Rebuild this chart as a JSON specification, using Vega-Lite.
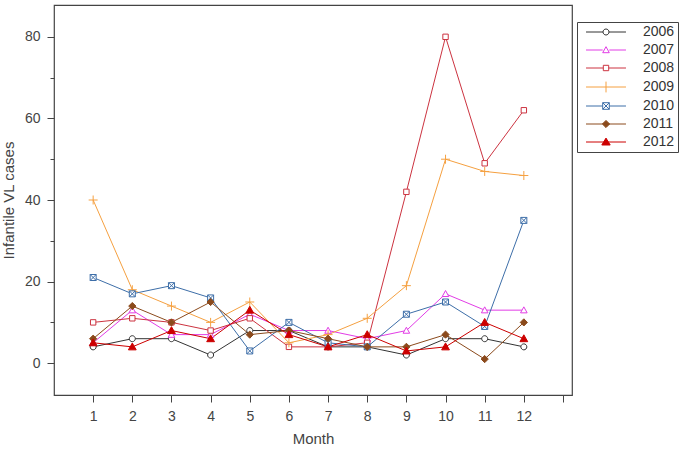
{
  "$schema": "https://vega.github.io/schema/vega-lite/v6.json",
  "width": 518,
  "height": 390,
  "autosize": {"type": "none"},
  "padding": {"left": 54, "top": 5, "right": 113, "bottom": 57},
  "background": "white",
  "config": {
    "font": "Liberation Sans",
    "view": {"stroke": "#444", "strokeWidth": 1.2},
    "axis": {"labelColor": "#444", "titleColor": "#444", "tickColor": "#444", "labelFont": "Liberation Sans", "titleFont": "Liberation Sans", "titleFontWeight": "normal", "labelFontSize": 14, "titleFontSize": 15, "grid": false, "domain": false}
  },
  "data": {"values": [
    {"month": 1, "year": "2006", "cases": 4}, {"month": 2, "year": "2006", "cases": 6}, {"month": 3, "year": "2006", "cases": 6}, {"month": 4, "year": "2006", "cases": 2}, {"month": 5, "year": "2006", "cases": 8}, {"month": 6, "year": "2006", "cases": 8}, {"month": 7, "year": "2006", "cases": 4}, {"month": 8, "year": "2006", "cases": 4}, {"month": 9, "year": "2006", "cases": 2}, {"month": 10, "year": "2006", "cases": 6}, {"month": 11, "year": "2006", "cases": 6}, {"month": 12, "year": "2006", "cases": 4},
    {"month": 1, "year": "2007", "cases": 5}, {"month": 2, "year": "2007", "cases": 13}, {"month": 3, "year": "2007", "cases": 7}, {"month": 4, "year": "2007", "cases": 7}, {"month": 5, "year": "2007", "cases": 12}, {"month": 6, "year": "2007", "cases": 8}, {"month": 7, "year": "2007", "cases": 8}, {"month": 8, "year": "2007", "cases": 6}, {"month": 9, "year": "2007", "cases": 8}, {"month": 10, "year": "2007", "cases": 17}, {"month": 11, "year": "2007", "cases": 13}, {"month": 12, "year": "2007", "cases": 13},
    {"month": 1, "year": "2008", "cases": 10}, {"month": 2, "year": "2008", "cases": 11}, {"month": 3, "year": "2008", "cases": 10}, {"month": 4, "year": "2008", "cases": 8}, {"month": 5, "year": "2008", "cases": 11}, {"month": 6, "year": "2008", "cases": 4}, {"month": 7, "year": "2008", "cases": 4}, {"month": 8, "year": "2008", "cases": 5}, {"month": 9, "year": "2008", "cases": 42}, {"month": 10, "year": "2008", "cases": 80}, {"month": 11, "year": "2008", "cases": 49}, {"month": 12, "year": "2008", "cases": 62},
    {"month": 1, "year": "2009", "cases": 40}, {"month": 2, "year": "2009", "cases": 18}, {"month": 3, "year": "2009", "cases": 14}, {"month": 4, "year": "2009", "cases": 10}, {"month": 5, "year": "2009", "cases": 15}, {"month": 6, "year": "2009", "cases": 5}, {"month": 7, "year": "2009", "cases": 7}, {"month": 8, "year": "2009", "cases": 11}, {"month": 9, "year": "2009", "cases": 19}, {"month": 10, "year": "2009", "cases": 50}, {"month": 11, "year": "2009", "cases": 47}, {"month": 12, "year": "2009", "cases": 46},
    {"month": 1, "year": "2010", "cases": 21}, {"month": 2, "year": "2010", "cases": 17}, {"month": 3, "year": "2010", "cases": 19}, {"month": 4, "year": "2010", "cases": 16}, {"month": 5, "year": "2010", "cases": 3}, {"month": 6, "year": "2010", "cases": 10}, {"month": 7, "year": "2010", "cases": 5}, {"month": 8, "year": "2010", "cases": 4}, {"month": 9, "year": "2010", "cases": 12}, {"month": 10, "year": "2010", "cases": 15}, {"month": 11, "year": "2010", "cases": 9}, {"month": 12, "year": "2010", "cases": 35},
    {"month": 1, "year": "2011", "cases": 6}, {"month": 2, "year": "2011", "cases": 14}, {"month": 3, "year": "2011", "cases": 10}, {"month": 4, "year": "2011", "cases": 15}, {"month": 5, "year": "2011", "cases": 7}, {"month": 6, "year": "2011", "cases": 8}, {"month": 7, "year": "2011", "cases": 6}, {"month": 8, "year": "2011", "cases": 4}, {"month": 9, "year": "2011", "cases": 4}, {"month": 10, "year": "2011", "cases": 7}, {"month": 11, "year": "2011", "cases": 1}, {"month": 12, "year": "2011", "cases": 10},
    {"month": 1, "year": "2012", "cases": 5}, {"month": 2, "year": "2012", "cases": 4}, {"month": 3, "year": "2012", "cases": 8}, {"month": 4, "year": "2012", "cases": 6}, {"month": 5, "year": "2012", "cases": 13}, {"month": 6, "year": "2012", "cases": 7}, {"month": 7, "year": "2012", "cases": 4}, {"month": 8, "year": "2012", "cases": 7}, {"month": 9, "year": "2012", "cases": 3}, {"month": 10, "year": "2012", "cases": 4}, {"month": 11, "year": "2012", "cases": 10}, {"month": 12, "year": "2012", "cases": 6}
  ]},
  "encoding": {
    "x": {"field": "month", "type": "quantitative", "title": "Month",
      "scale": {"domain": [0, 13.23], "nice": false, "zero": false},
      "axis": {"values": [1,2,3,4,5,6,7,8,9,10,11,12,13], "labelExpr": "datum.value > 12 ? '' : datum.label", "tickSize": 7, "labelPadding": 7, "titlePadding": 8, "labelFlush": false}},
    "y": {"field": "cases", "type": "quantitative", "title": "Infantile VL cases",
      "scale": {"domain": [-7.8, 87.8], "nice": false, "zero": false},
      "axis": {"values": [0,10,20,30,40,50,60,70,80], "labelExpr": "datum.value % 20 == 0 ? datum.label : ''", "tickSize": {"condition": {"test": "datum.value % 20 == 0", "value": 7}, "value": 4}, "labelPadding": 7, "titlePadding": 8, "labelFlush": false}}
  },
  "layer": [
    {
      "mark": {"type": "line", "strokeWidth": 1},
      "encoding": {
        "color": {"field": "year", "type": "nominal",
          "scale": {"domain": ["2006","2007","2008","2009","2010","2011","2012"], "range": ["#333333","#e23ce6","#cc3340","#f5a040","#3d6ea8","#8b4a1c","#cc0000"]},
          "legend": {"orient": "none", "legendX": 523, "legendY": 17, "title": null, "strokeColor": "#444", "padding": 3, "symbolSize": 144, "symbolOffset": 19, "labelOffset": 30, "rowPadding": 4, "labelFontSize": 14, "labelColor": "#333", "labelFont": "Liberation Sans", "symbolStrokeWidth": 1,
            "encode": {"symbols": {"update": {
              "shape": {"signal": "datum.value == '2006' ? 'M-3.33,0H-0.5M0.5,0H3.33M0.5,0A0.5,0.5 0 1,1 -0.5,0A0.5,0.5 0 1,1 0.5,0Z' : datum.value == '2007' ? 'M-3.33,0H-0.55M0.55,0H3.33M0,-0.55L0.55,0.45L-0.55,0.45Z' : datum.value == '2008' ? 'M-3.33,0H-0.45M0.45,0H3.33M-0.45,-0.45H0.45V0.45H-0.45Z' : datum.value == '2009' ? 'M-3.33,0H3.33M0,-0.9V0.9' : datum.value == '2010' ? 'M-3.33,0H-0.55M0.55,0H3.33M-0.55,-0.55H0.55V0.55H-0.55ZM-0.55,-0.55L0.55,0.55M0.55,-0.55L-0.55,0.55' : datum.value == '2011' ? 'M-3.33,0H3.33M0,-0.6L0.6,0L0,0.6L-0.6,0Z' : 'M-3.33,0H3.33M0,-0.65L0.7,0.5L-0.7,0.5Z'"},
              "fill": {"signal": "datum.value == '2011' || datum.value == '2012' ? scale('color', datum.value) : 'white'"},
              "stroke": {"signal": "scale('color', datum.value)"},
              "strokeWidth": {"value": 1},
              "opacity": {"value": 1}
            }}}
          }
        }
      }
    },
    {
      "mark": {"type": "point", "size": 36, "strokeWidth": 1, "opacity": 1},
      "encoding": {
        "stroke": {"field": "year", "type": "nominal",
          "scale": {"domain": ["2006","2007","2008","2009","2010","2011","2012"], "range": ["#333333","#e23ce6","#cc3340","#f5a040","#3d6ea8","#8b4a1c","#cc0000"]}, "legend": null},
        "fill": {"condition": [
            {"test": "datum.year == '2011'", "value": "#8b4a1c"},
            {"test": "datum.year == '2012'", "value": "#cc0000"}
          ], "value": "white"},
        "shape": {"condition": [
            {"test": "datum.year == '2006'", "value": "M1,0A1,1 0 1,1 -1,0A1,1 0 1,1 1,0Z"},
            {"test": "datum.year == '2007'", "value": "M0,-1.1L1.1,0.9L-1.1,0.9Z"},
            {"test": "datum.year == '2008'", "value": "M-0.9,-0.9H0.9V0.9H-0.9Z"},
            {"test": "datum.year == '2009'", "value": "M-1.5,0H1.5M0,-1.5V1.5"},
            {"test": "datum.year == '2010'", "value": "M-1,-1H1V1H-1ZM-1,-1L1,1M1,-1L-1,1"},
            {"test": "datum.year == '2011'", "value": "M0,-1.2L1.2,0L0,1.2L-1.2,0Z"}
          ], "value": "M0,-1.3L1.3,1L-1.3,1Z"}
      }
    }
  ]
}
